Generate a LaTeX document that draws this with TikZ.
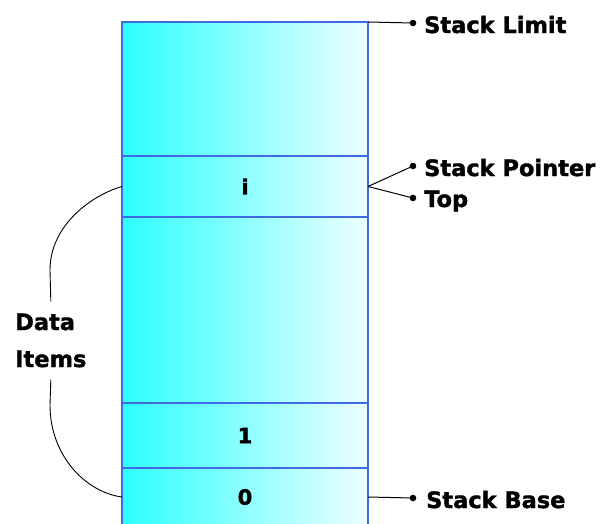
\documentclass[tikz,border=0pt]{standalone}
\usepackage{fontspec}
\setmainfont{DejaVu Sans}
\newfontfamily\heavy{DejaVu Sans}[UprightFeatures={FakeBold=1.6},BoldFeatures={FakeBold=1.6}]
\definecolor{cellborder}{RGB}{65,105,225}
\definecolor{cyanL}{RGB}{45,255,255}
\definecolor{cyanR}{RGB}{238,255,255}
\begin{document}
\begin{tikzpicture}[x=1pt,y=-1pt,
  cell/.style={draw=cellborder, line width=1.2pt, inner sep=0pt, outer sep=0pt,
    minimum width=246pt, anchor=north west,
    left color=cyanL, right color=cyanR,
    font=\heavy\fontsize{21}{24}\selectfont\bfseries},
  lbl/.style={inner sep=0pt, font=\heavy\fontsize{22.5}{37}\selectfont\bfseries},
  conn/.style={line width=1pt, black},
  dotc/.style={fill=black}]
\useasboundingbox (0,0) rectangle (607,523);
% stack cells
\node[cell, minimum height=134pt] (top) at (122,22) {};
\node[cell, minimum height=61pt] (ci) at (122,156) {i};
\node[cell, minimum height=186pt] (mid) at (122,217) {};
\node[cell, minimum height=65pt] (c1) at (122,403) {1};
\node[cell, minimum height=58pt] (c0) at (122,468) {0};
% right labels
\coordinate (dlim) at (413,23);
\coordinate (dsp) at (413,166);
\coordinate (dtop) at (413,198);
\coordinate (dbase) at (413,498);
\draw[conn] (top.north east) -- (dlim);
\draw[conn] (ci.east) -- (dsp);
\draw[conn] (ci.east) -- (dtop);
\draw[conn] (c0.east) -- (dbase);
\foreach \d in {dlim,dsp,dtop,dbase} \fill[dotc] (\d) circle (3.3pt);
\node[lbl, anchor=base west] (llim) at (424,33) {Stack Limit};
\node[lbl, anchor=base west] (lsp) at (424,176) {Stack Pointer};
\node[lbl, anchor=base west] (ltop) at (424,207) {Top};
\node[lbl, anchor=base west] (lbase) at (426,508) {Stack Base};
% data items
\node[lbl, align=left, anchor=base west, inner ysep=12pt] (data) at (15,367) {Data\\Items};
\draw[conn, line width=0.9pt] (data.north) -- (50,270) .. controls (50,225) and (92,195) .. (ci.west);
\draw[conn, line width=0.9pt] (data.south) -- (50,405) .. controls (50,455) and (85,492) .. (c0.west);
\end{tikzpicture}
\end{document}
